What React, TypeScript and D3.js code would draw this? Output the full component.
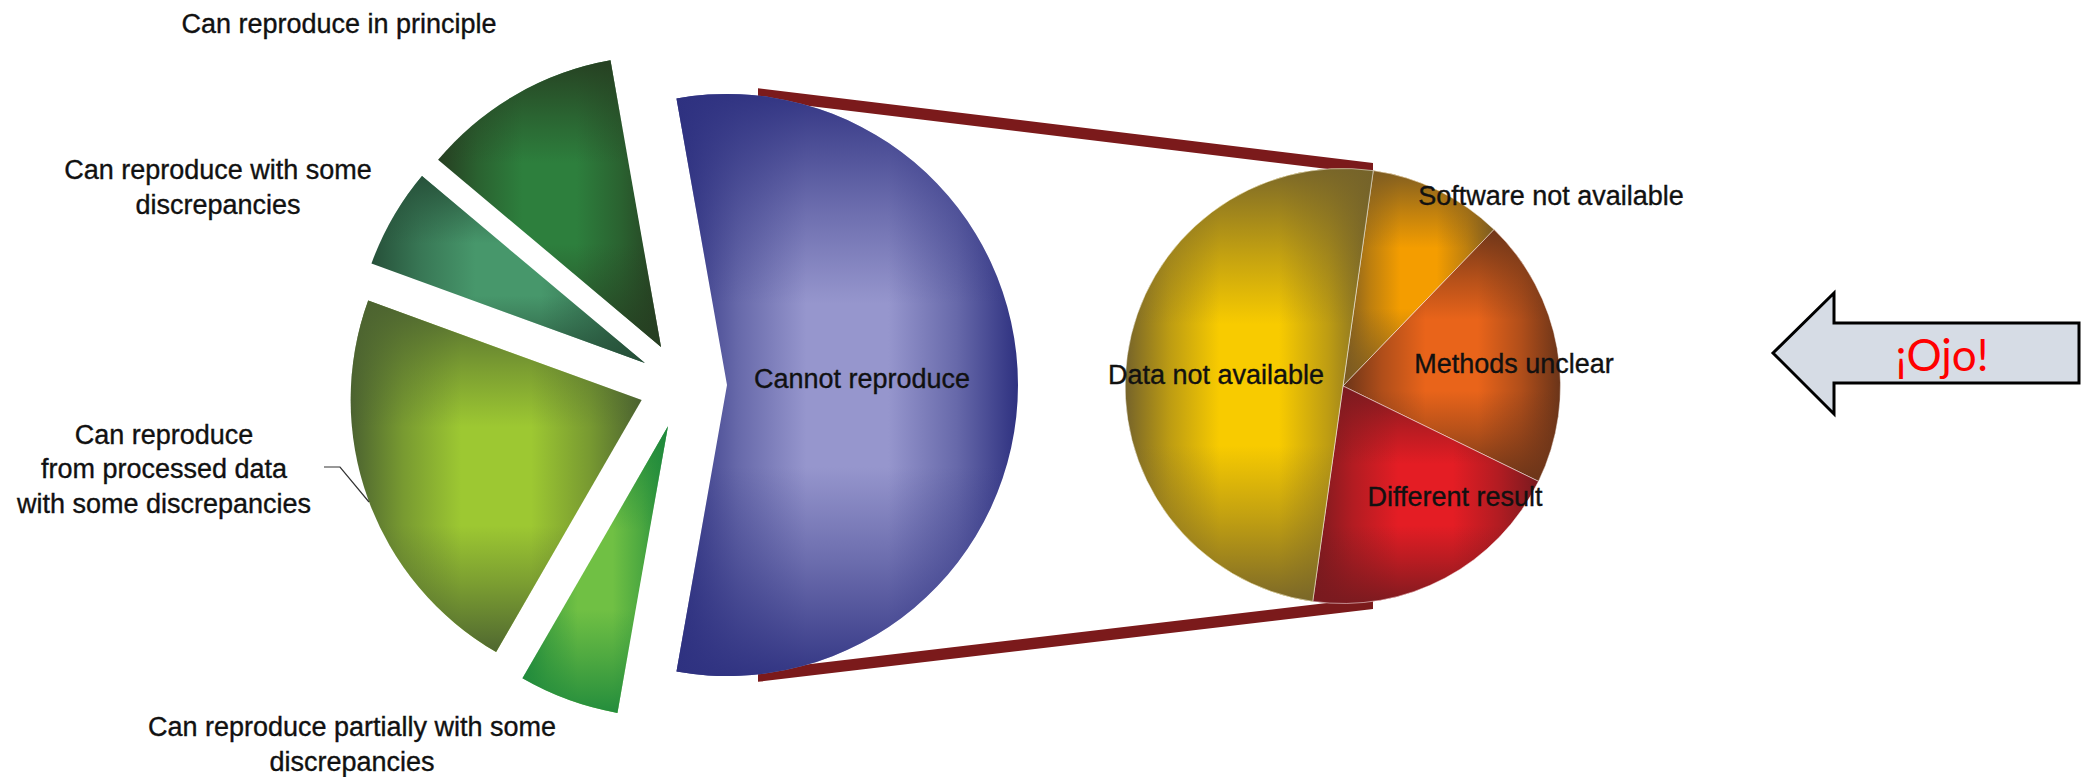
import React from "react";
import * as d3 from "d3";

// ---------- data ----------
const leftCategories = [
  "Cannot reproduce",
  "Can reproduce partially with some discrepancies",
  "Can reproduce from processed data with some discrepancies",
  "Can reproduce with some discrepancies",
  "Can reproduce in principle",
];
const leftValues = [10, 1, 4, 1, 2];
const leftLabelLines = [
  ["Cannot reproduce"],
  ["Can reproduce partially with some", "discrepancies"],
  ["Can reproduce", "from processed data", "with some discrepancies"],
  ["Can reproduce with some", "discrepancies"],
  ["Can reproduce in principle"],
];

const rightCategories = [
  "Software not available",
  "Methods unclear",
  "Different result",
  "Data not available",
];
const rightValues = [1, 2, 2, 5];
const rightLabelLines = [
  ["Software not available"],
  ["Methods unclear"],
  ["Different result"],
  ["Data not available"],
];

const calloutText = "¡Ojo!";

// ---------- layout & style ----------
const W = 2081;
const H = 777;
const deg = Math.PI / 180;

const LEFT = { cx: 683, cy: 385, r: 291, explode: 44, start: -10 };
const RIGHT = { cx: 1343, cy: 386, r: 217.5, start: 8 };

// [light centre, dark edge]
const leftColors = [
  ["#9696cd", "#2e3180"],
  ["#70c044", "#208a3c"],
  ["#9dc832", "#4b6230"],
  ["#47976b", "#265039"],
  ["#2d7f3d", "#263e21"],
];
const rightColors = [
  ["#f49d00", "#7a5a22"],
  ["#e9641a", "#6a3419"],
  ["#e41d24", "#781a1f"],
  ["#f8cb00", "#75632a"],
];

// label baselines (first line) — annotation positions
const leftLabelPos = [
  [862, 388],
  [352, 736],
  [164, 443.5],
  [218, 179],
  [339, 33],
];
const rightLabelPos = [
  [1551, 204.5],
  [1514, 373],
  [1455, 506],
  [1216, 383.5],
];
const LINE_H = 34.5;
const FONT = "'Liberation Sans', Arial, Helvetica, sans-serif";
const FONT_SIZE = 27;
const TEXT_COLOR = "#111111";
const CONNECTOR_COLOR = "#7b1a1b";

function mix(a: string, b: string, t: number) {
  return d3.interpolateRgb(a, b)(t);
}

function PillowDefs({ id, light, edge }: { id: string; light: string; edge: string }) {
  return (
    <>
      <linearGradient id={id + "-h"} x1="0" y1="0" x2="1" y2="0">
        <stop offset="0" stopColor={edge} />
        <stop offset="0.18" stopColor={mix(edge, light, 0.55)} />
        <stop offset="0.38" stopColor={light} />
        <stop offset="0.62" stopColor={light} />
        <stop offset="0.82" stopColor={mix(edge, light, 0.55)} />
        <stop offset="1" stopColor={edge} />
      </linearGradient>
      <linearGradient id={id + "-v"} x1="0" y1="0" x2="0" y2="1">
        <stop offset="0" stopColor={edge} stopOpacity={0.95} />
        <stop offset="0.2" stopColor={edge} stopOpacity={0.4} />
        <stop offset="0.36" stopColor={edge} stopOpacity={0} />
        <stop offset="0.64" stopColor={edge} stopOpacity={0} />
        <stop offset="0.8" stopColor={edge} stopOpacity={0.4} />
        <stop offset="1" stopColor={edge} stopOpacity={0.95} />
      </linearGradient>
    </>
  );
}

function Label({ lines, x, y }: { lines: string[]; x: number; y: number }) {
  return (
    <text
      x={x}
      y={y}
      textAnchor="middle"
      fontFamily={FONT}
      fontSize={FONT_SIZE}
      fill={TEXT_COLOR}
      stroke={TEXT_COLOR}
      strokeWidth={0.35}
    >
      {lines.map((l, i) => (
        <tspan key={i} x={x} y={y + i * LINE_H}>
          {l}
        </tspan>
      ))}
    </text>
  );
}

export default function App() {
  const leftPie = d3
    .pie<number>()
    .sort(null)
    .startAngle(LEFT.start * deg)
    .endAngle((LEFT.start + 360) * deg)(leftValues);
  const rightPie = d3
    .pie<number>()
    .sort(null)
    .startAngle(RIGHT.start * deg)
    .endAngle((RIGHT.start + 360) * deg)(rightValues);

  const leftArc = d3.arc<d3.PieArcDatum<number>>().innerRadius(0).outerRadius(LEFT.r);
  const rightArc = d3.arc<d3.PieArcDatum<number>>().innerRadius(0).outerRadius(RIGHT.r);

  const offsets = leftPie.map((d) => {
    const m = (d.startAngle + d.endAngle) / 2;
    return [LEFT.explode * Math.sin(m), -LEFT.explode * Math.cos(m)];
  });

  // connector lines: from the exploded "Cannot reproduce" slice to the breakdown pie
  const bx = LEFT.cx + offsets[0][0];
  const by = LEFT.cy + offsets[0][1];
  const x1 = bx + 31;
  const x2 = RIGHT.cx + 30;
  const arcYL = Math.sqrt(LEFT.r * LEFT.r - 31 * 31);
  const arcYR = Math.sqrt(RIGHT.r * RIGHT.r - 30 * 30);
  const out = 7.5;
  const inn = 4;
  const topLine = [
    [x1, by - arcYL - out],
    [x2, RIGHT.cy - arcYR - out],
    [x2, RIGHT.cy - arcYR + inn],
    [x1, by - arcYL + inn],
  ];
  const botLine = [
    [x1, by + arcYL + out],
    [x2, RIGHT.cy + arcYR + out],
    [x2, RIGHT.cy + arcYR - inn],
    [x1, by + arcYL - inn],
  ];
  const poly = (p: number[][]) => p.map((q) => q.join(",")).join(" ");

  // callout arrow
  const A = { tipX: 1773, tipY: 353, headX: 1834, headTop: 293, headBot: 414, shaftTop: 323, shaftBot: 383, endX: 2079 };
  const arrow = [
    [A.tipX, A.tipY],
    [A.headX, A.headTop],
    [A.headX, A.shaftTop],
    [A.endX, A.shaftTop],
    [A.endX, A.shaftBot],
    [A.headX, A.shaftBot],
    [A.headX, A.headBot],
  ];

  return (
    <svg
      width={W}
      height={H}
      viewBox={`0 0 ${W} ${H}`}
      style={{ position: "absolute", left: 0, top: 0, display: "block", background: "#fff" }}
    >
      <defs>
        {leftPie.map((d, i) => (
          <PillowDefs key={"l" + i} id={"lg" + i} light={leftColors[i][0]} edge={leftColors[i][1]} />
        ))}
        {rightPie.map((d, i) => (
          <PillowDefs key={"r" + i} id={"rg" + i} light={rightColors[i][0]} edge={rightColors[i][1]} />
        ))}
      </defs>

      {/* connectors (behind pies) */}
      <polygon points={poly(topLine)} fill={CONNECTOR_COLOR} />
      <polygon points={poly(botLine)} fill={CONNECTOR_COLOR} />

      {/* left exploded pie */}
      <g transform={`translate(${LEFT.cx},${LEFT.cy})`}>
        {leftPie.map((d, i) => {
          const p = leftArc(d) || "";
          return (
            <g key={leftCategories[i]} transform={`translate(${offsets[i][0]},${offsets[i][1]})`}>
              <path d={p} fill={`url(#lg${i}-h)`} />
              <path d={p} fill={`url(#lg${i}-v)`} />
            </g>
          );
        })}
      </g>

      {/* right breakdown pie */}
      <g transform={`translate(${RIGHT.cx},${RIGHT.cy})`}>
        {rightPie.map((d, i) => {
          const p = rightArc(d) || "";
          return (
            <g key={rightCategories[i]}>
              <path d={p} fill={`url(#rg${i}-h)`} />
              <path d={p} fill={`url(#rg${i}-v)`} stroke="rgba(255,255,255,0.5)" strokeWidth={1} />
            </g>
          );
        })}
      </g>

      {/* leader line for processed-data label */}
      <polyline points="324,467 340,467 369,502" fill="none" stroke="#333" strokeWidth={1.2} />

      {leftLabelLines.map((lines, i) => (
        <Label key={"ll" + i} lines={lines} x={leftLabelPos[i][0]} y={leftLabelPos[i][1]} />
      ))}
      {rightLabelLines.map((lines, i) => (
        <Label key={"rl" + i} lines={lines} x={rightLabelPos[i][0]} y={rightLabelPos[i][1]} />
      ))}

      {/* callout */}
      <polygon points={poly(arrow)} fill="#d6dce5" stroke="#000" strokeWidth={3} strokeLinejoin="miter" />
      <text
        x={1942}
        y={371}
        textAnchor="middle"
        fontFamily="Lato, 'Open Sans', sans-serif"
        fontSize={44}
        fill="#ff0000"
      >
        {calloutText}
      </text>
    </svg>
  );
}
